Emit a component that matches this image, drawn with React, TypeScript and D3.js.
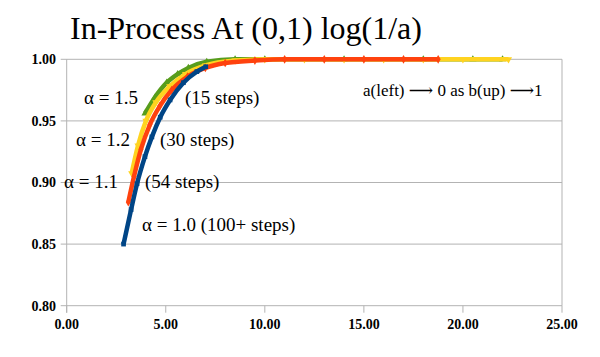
import React from "react";
import * as d3 from "d3";

const W = 600;
const H = 357;

const xTicks = [0, 5, 10, 15, 20, 25];
const yTicks = [0.8, 0.85, 0.9, 0.95, 1.0];

// α = 1.0 (100+ steps)
const blueX = [2.87, 3.25, 3.55, 3.95, 4.3, 4.72, 5.22, 5.89, 6.57, 7.02];
const blueY = [0.85, 0.878, 0.899, 0.921, 0.937, 0.953, 0.967, 0.981, 0.99, 0.994];

// α = 1.1 (54 steps)
const orangeX = [3.11, 3.4, 3.75, 4.2, 4.7, 5.3, 6.1, 7.0, 8.0, 9.5, 11.0, 13.0, 15.0, 17.0, 18.75];
const orangeY = [0.884, 0.905, 0.927, 0.947, 0.962, 0.975, 0.986, 0.993, 0.997, 0.999, 1.0, 1.0, 1.0, 1.0, 1.0];

// α = 1.2 (30 steps)
const yellowX = [3.28, 3.6, 4.0, 4.5, 5.2, 6.0, 7.0, 8.5, 10.0, 12.0, 14.0, 16.0, 18.0, 20.0, 22.3];
const yellowY = [0.9075, 0.93, 0.95, 0.965, 0.978, 0.988, 0.995, 0.999, 1.0, 1.0, 1.0, 1.0, 1.0, 1.0, 1.0];

// α = 1.5 (15 steps)
const greenX = [3.95, 4.45, 5.05, 5.6, 6.14, 7.07, 8.5, 10.0, 14.0, 18.0, 20.5, 22.0];
const greenY = [0.956, 0.969, 0.981, 0.988, 0.993, 0.998, 1.0, 1.0, 1.0, 1.0, 1.0, 1.0];

const labelTexts = [
  "\u03B1 = 1.5",
  "(15 steps)",
  "\u03B1 = 1.2",
  "(30 steps)",
  "\u03B1 = 1.1",
  "(54 steps)",
  "\u03B1 = 1.0 (100+ steps)",
];
const labelPos: [number, number][] = [
  [84, 104],
  [185, 104],
  [76, 146],
  [160, 146],
  [64, 188],
  [145, 188],
  [142, 231],
];

export default function App() {
  const left = 66.7, right = 562, top = 59.3, bottom = 305.7;
  const x = d3.scaleLinear().domain([0, 25]).range([left, right]);
  const y = d3.scaleLinear().domain([0.8, 1.0]).range([bottom, top]);

  const series = [
    { xs: greenX, ys: greenY, color: "#579d1c", sym: d3.symbolTriangle, rot: 0 },
    { xs: yellowX, ys: yellowY, color: "#ffd320", sym: d3.symbolTriangle, rot: 180 },
    { xs: orangeX, ys: orangeY, color: "#ff420e", sym: d3.symbolDiamond, rot: 0 },
    { xs: blueX, ys: blueY, color: "#004586", sym: d3.symbolSquare, rot: 0 },
  ];

  const line = d3
    .line<[number, number]>()
    .x((d) => x(d[0]))
    .y((d) => y(d[1]))
    .curve(d3.curveMonotoneX);

  const grid = "#b3b3b3";
  const serif = "Liberation Serif, Tinos, Times New Roman, DejaVu Serif, serif";

  return (
    <svg width={W} height={H} style={{ position: "absolute", left: 0, top: 0, background: "#fff" }}>
      <rect width={W} height={H} fill="#fff" />
      <text x={70} y={38.5} fontFamily={serif} fontSize={31} textLength={352} lengthAdjust="spacingAndGlyphs" fill="#000">
        In-Process At (0,1) log(1/a)
      </text>

      {yTicks.map((t) => (
        <g key={"y" + t}>
          <line x1={left - 6} x2={right} y1={y(t)} y2={y(t)} stroke={grid} strokeWidth={1} />
          <text
            x={56}
            y={y(t)}
            dy="0.35em"
            textAnchor="end"
            fontFamily={serif}
            fontWeight="bold"
            fontSize={14}
            fill="#000"
          >
            {t.toFixed(2)}
          </text>
        </g>
      ))}
      <line x1={left} x2={left} y1={top} y2={bottom + 7} stroke={grid} strokeWidth={1} />
      <line x1={right} x2={right} y1={top} y2={bottom} stroke={grid} strokeWidth={1} />
      {xTicks.map((t) => (
        <g key={"x" + t}>
          <line x1={x(t)} x2={x(t)} y1={bottom} y2={bottom + 7} stroke={grid} strokeWidth={1} />
          <text
            x={x(t)}
            y={329}
            textAnchor="middle"
            fontFamily={serif}
            fontWeight="bold"
            fontSize={14}
            fill="#000"
          >
            {t.toFixed(2)}
          </text>
        </g>
      ))}

      {series.map((s, i) => {
        const pts: [number, number][] = s.xs.map((v, j) => [v, s.ys[j]]);
        const sym = d3.symbol().type(s.sym).size(22)();
        return (
          <g key={"s" + i}>
            <path d={line(pts) || ""} fill="none" stroke={s.color} strokeWidth={4.5} strokeLinejoin="round" />
            {pts.map((p, j) => (
              <path
                key={j}
                d={sym || ""}
                transform={`translate(${x(p[0])},${y(p[1])}) rotate(${s.rot})`}
                fill={s.color}
              />
            ))}
          </g>
        );
      })}

      {labelTexts.map((t, i) => (
        <text key={"l" + i} x={labelPos[i][0]} y={labelPos[i][1]} fontFamily={serif} fontSize={19} fill="#000">
          {t}
        </text>
      ))}
      <text x={363} y={96} fontFamily={serif} fontSize={17} fill="#000">
        a(left) {"\u27F6"} 0 as b(up) {"\u27F6"}1
      </text>
    </svg>
  );
}
